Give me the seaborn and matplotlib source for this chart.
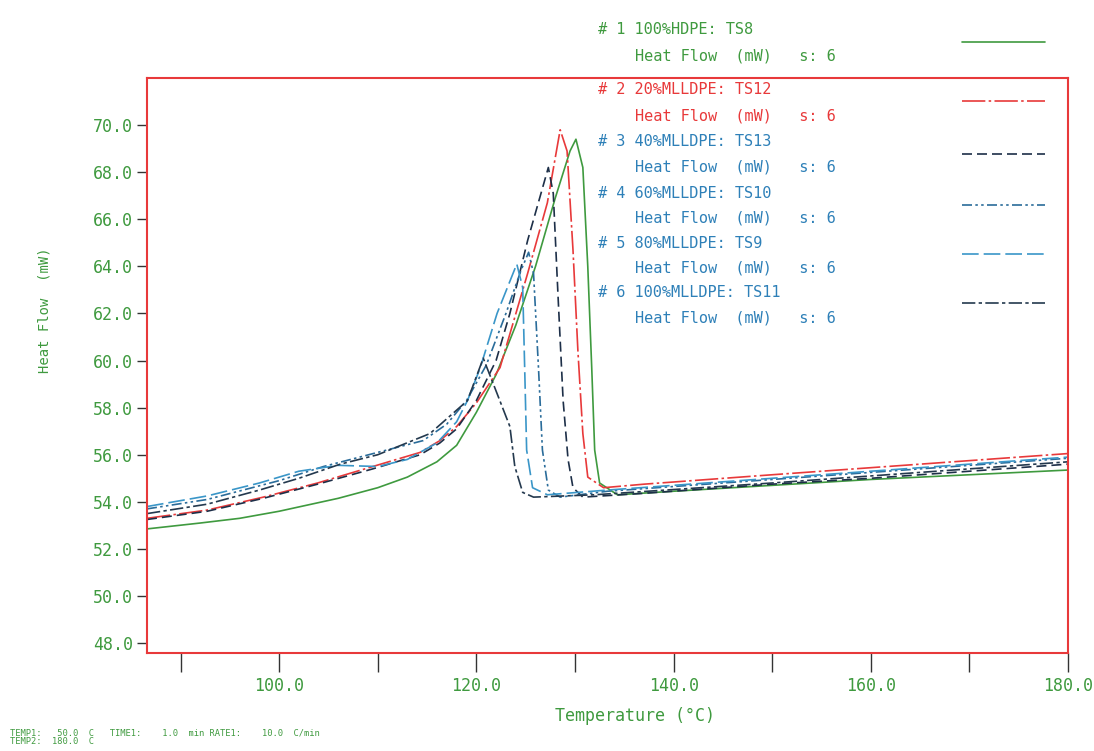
import numpy as np
import pandas as pd
import seaborn as sns
import matplotlib.pyplot as plt
from matplotlib.lines import Line2D

# values (temperature in C, heat flow in mW)
t_hdpe = [86.6, 92, 96, 100, 106, 110, 113, 116, 118, 120, 122, 124, 126, 128, 129.5, 130.1,
          130.8, 131.3, 131.7, 132.0, 132.5, 134.3, 140, 150, 160, 170, 180]
h_hdpe = [52.85, 53.1, 53.3, 53.6, 54.15, 54.6, 55.05, 55.7, 56.4, 57.8, 59.4, 61.5, 64.0, 66.9, 68.9, 69.4,
          68.2, 64.0, 59.7, 56.2, 54.8, 54.3, 54.45, 54.7, 54.95, 55.15, 55.35]

t_20 = [86.6, 92.7, 98.4, 103.9, 109.5, 114.3, 116.3, 118, 120, 122.4, 125.2, 127.2, 128.5,
        129.2, 129.8, 130.3, 130.8, 131.3, 132.9, 137, 150, 160, 170, 180]
h_20 = [53.3, 53.65, 54.2, 54.8, 55.5, 56.1, 56.6, 57.2, 58.2, 59.7, 63.7, 66.7, 69.8,
        68.9, 64.7, 60.4, 56.9, 55.05, 54.6, 54.75, 55.15, 55.45, 55.75, 56.05]

t_40 = [86.6, 92.7, 98.4, 103.9, 109.5, 114.3, 116.3, 118, 120, 122, 123.4, 125.2, 127.3,
        127.8, 128.3, 128.8, 129.3, 129.8, 130.8, 136.6, 150, 160, 170, 180]
h_40 = [53.25, 53.6, 54.15, 54.75, 55.4, 56.0, 56.5, 57.1, 58.3, 60.0, 62.0, 65.1, 68.2,
        67.1, 62.6, 58.3, 55.8, 54.6, 54.2, 54.35, 54.75, 55.0, 55.3, 55.6]

t_60 = [86.6, 92.7, 100, 104.5, 110, 114.6, 117, 119, 121, 123, 124.5, 125.3,
        125.8, 126.3, 126.7, 127.3, 128.5, 133.3, 150, 160, 170, 180]
h_60 = [53.7, 54.1, 54.9, 55.5, 56.1, 56.6, 57.3, 58.3, 59.8, 62.0, 63.8, 64.6,
        63.7, 59.7, 56.2, 54.5, 54.2, 54.45, 54.95, 55.25, 55.55, 55.85]

t_80 = [86.6, 92.7, 98, 102, 106, 110, 113, 116, 118, 119.1, 120.4, 122.1, 124.1,
        124.7, 124.9, 125.1, 125.7, 127.2, 133.3, 150, 160, 170, 180]
h_80 = [53.8, 54.25, 54.8, 55.3, 55.55, 55.5, 55.8, 56.5, 57.4, 58.3, 59.7, 62.0, 64.1,
        63.1, 59.7, 56.2, 54.6, 54.3, 54.5, 55.0, 55.3, 55.6, 55.9]

t_100 = [86.6, 92.7, 98, 102, 106.2, 110, 115.3, 119.1, 120.7,
         122.1, 123.4, 123.9, 124.7, 125.8, 132, 150, 160, 170, 180]
h_100 = [53.5, 53.9, 54.5, 55.0, 55.6, 56.0, 56.9, 58.3, 60.1,
         58.6, 57.2, 55.5, 54.4, 54.2, 54.3, 54.8, 55.1, 55.4, 55.7]

names = ["# 1 100%HDPE: TS8", "# 2 20%MLLDPE: TS12", "# 3 40%MLLDPE: TS13",
         "# 4 60%MLLDPE: TS10", "# 5 80%MLLDPE: TS9", "# 6 100%MLLDPE: TS11"]
temps = [t_hdpe, t_20, t_40, t_60, t_80, t_100]
flows = [h_hdpe, h_20, h_40, h_60, h_80, h_100]

green = "#3f9a3f"
red = "#e8393a"
blue_txt = "#2e80b8"
line_cols = [green, red, "#1d2f48", "#2a6c9a", "#3a96c8", "#24394e"]
text_cols = [green, red, blue_txt, blue_txt, blue_txt, blue_txt]
styles = ["-", (0, (14, 2, 1.5, 2)), (0, (6, 3)), (0, (6, 2, 1.5, 2, 1.5, 2)),
          (0, (10, 3)), (0, (8, 2, 2, 2))]

sns.set_style("white")
plt.rcParams["font.family"] = ["DejaVu Sans Mono"]

fig = plt.figure(figsize=(10.94, 7.51), dpi=100)
ax = fig.add_axes([147 / 1094, 1 - 653 / 751, (1068 - 147) / 1094, (653 - 78) / 751])

for t, h, c, ls in zip(temps, flows, line_cols, styles):
    df = pd.DataFrame({"Temperature": t, "Heat Flow": h})
    sns.lineplot(data=df, x="Temperature", y="Heat Flow", ax=ax, color=c,
                 linestyle=ls, linewidth=1.2, sort=False, estimator=None)

ax.set_xlim(86.6, 180)
ax.set_ylim(47.58, 72.0)
ax.set_xlabel("")
ax.set_ylabel("")

for sp in ax.spines.values():
    sp.set_color(red)
    sp.set_linewidth(1.5)

ax.set_xticks([100, 120, 140, 160, 180])
ax.set_xticklabels(["100.0", "120.0", "140.0", "160.0", "180.0"])
ax.set_xticks([90, 110, 130, 150, 170], minor=True)
ax.tick_params(axis="x", which="both", direction="out", length=14, width=1.0,
               color="#333333", bottom=True, labelcolor=green, labelsize=12, pad=3)
yt = np.arange(48, 71, 2)
ax.set_yticks(yt)
ax.set_yticklabels([f"{v:.1f}" for v in yt])
ax.tick_params(axis="y", direction="out", length=7, width=1.0, color="#333333",
               left=True, labelcolor=green, labelsize=12, pad=3)

fig.text(45 / 1094, 1 - 310 / 751, "Heat Flow  (mW)", rotation=90, color=green,
         fontsize=10, ha="center", va="center")
fig.text(635 / 1094, 1 - 716 / 751, "Temperature (\u00b0C)", color=green,
         fontsize=12, ha="center", va="center")
fig.text(10 / 1094, 1 - 733 / 751,
         "TEMP1:   50.0  C   TIME1:    1.0  min RATE1:    10.0  C/min",
         color=green, fontsize=6.3, ha="left", va="center")
fig.text(10 / 1094, 1 - 741 / 751, "TEMP2:  180.0  C", color=green,
         fontsize=6.3, ha="left", va="center")

# legend block, drawn like the instrument printout
y_name = [30, 90, 142, 193, 243, 292]
y_sub = [56, 116, 167, 218, 268, 318]
y_smp = [42, 101, 154, 205, 254, 303]
for i in range(6):
    fig.text(598 / 1094, 1 - y_name[i] / 751, names[i], color=text_cols[i],
             fontsize=11, ha="left", va="center")
    fig.text(635 / 1094, 1 - y_sub[i] / 751, "Heat Flow  (mW)   s: 6",
             color=text_cols[i], fontsize=11, ha="left", va="center")
    fig.add_artist(Line2D([962 / 1094, 1045 / 1094], [1 - y_smp[i] / 751] * 2,
                          color=line_cols[i], linestyle=styles[i], linewidth=1.2,
                          transform=fig.transFigure))

fig.savefig("out.png", dpi=100)
